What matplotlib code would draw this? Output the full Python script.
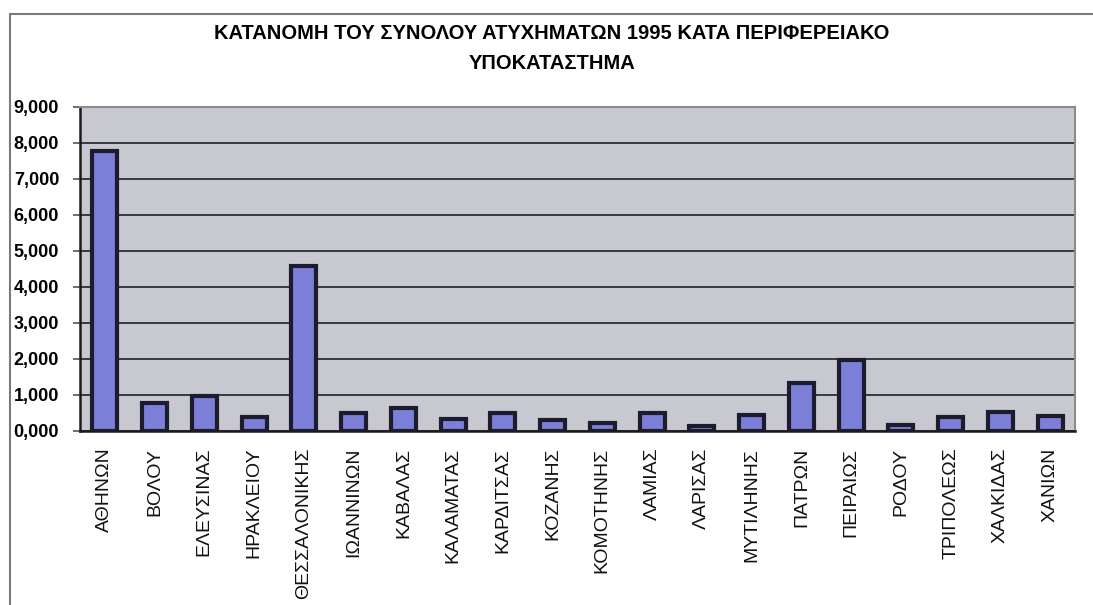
import matplotlib.pyplot as plt
from matplotlib.patches import Rectangle
from matplotlib.ticker import FuncFormatter

# Δεδομένα (χιλιάδες ατυχήματα ανά υποκατάστημα)
branches = ['ΑΘΗΝΩΝ', 'ΒΟΛΟΥ', 'ΕΛΕΥΣΙΝΑΣ', 'ΗΡΑΚΛΕΙΟΥ', 'ΘΕΣΣΑΛΟΝΙΚΗΣ',
            'ΙΩΑΝΝΙΝΩΝ', 'ΚΑΒΑΛΑΣ', 'ΚΑΛΑΜΑΤΑΣ', 'ΚΑΡΔΙΤΣΑΣ', 'ΚΟΖΑΝΗΣ',
            'ΚΟΜΟΤΗΝΗΣ', 'ΛΑΜΙΑΣ', 'ΛΑΡΙΣΑΣ', 'ΜΥΤΙΛΗΝΗΣ', 'ΠΑΤΡΩΝ',
            'ΠΕΙΡΑΙΩΣ', 'ΡΟΔΟΥ', 'ΤΡΙΠΟΛΕΩΣ', 'ΧΑΛΚΙΔΑΣ', 'ΧΑΝΙΩΝ']
accidents = [7.78, 0.78, 0.98, 0.40, 4.59,
             0.49, 0.65, 0.32, 0.49, 0.31,
             0.21, 0.51, 0.14, 0.45, 1.33,
             1.98, 0.18, 0.38, 0.52, 0.42]
y_ticks = [0, 1, 2, 3, 4, 5, 6, 7, 8, 9]

title = 'ΚΑΤΑΝΟΜΗ ΤΟΥ ΣΥΝΟΛΟΥ ΑΤΥΧΗΜΑΤΩΝ 1995 ΚΑΤΑ ΠΕΡΙΦΕΡΕΙΑΚΟ\nΥΠΟΚΑΤΑΣΤΗΜΑ'

plt.rcParams['font.family'] = ['Liberation Sans', 'DejaVu Sans']

fig = plt.figure(figsize=(10.93, 6.05), dpi=100)
fig.patch.set_facecolor('white')

# Πλαίσιο γύρω από το γράφημα
frame = Rectangle((10 / 1093, -0.01), 1.1, (605 - 14) / 605 + 0.01,
                  transform=fig.transFigure, fill=False,
                  edgecolor='#7a7a7a', linewidth=1.5)
fig.patches.append(frame)

ax = fig.add_axes([80 / 1093, (605 - 431) / 605, (1075 - 80) / 1093, (431 - 107) / 605])
ax.set_facecolor('#c8c8d0')

x = range(len(branches))
ax.bar(x, accidents, width=0.5, color='#7b7fd8', edgecolor='#1c1c2e',
       linewidth=3, zorder=3)

ax.set_xlim(-0.5, len(branches) - 0.5)
ax.set_ylim(0, 9)
ax.set_yticks(y_ticks)
ax.yaxis.set_major_formatter(FuncFormatter(lambda v, p: f'{v:.3f}'.replace('.', ',')))
ax.grid(axis='y', color='#2e2e36', linewidth=1.3, zorder=1)
ax.set_axisbelow(True)

ax.set_xticks(list(x))
ax.set_xticklabels(branches, rotation=90, fontsize=14, color='#111111')
ax.tick_params(axis='x', length=0, pad=12)
ax.tick_params(axis='y', length=5, width=1.2, color='#555555', labelsize=13, pad=10)
for lbl in ax.get_yticklabels():
    lbl.set_fontweight('bold')

for side in ['left', 'bottom']:
    ax.spines[side].set_color('#1a1a1a')
    ax.spines[side].set_linewidth(1.8)
for side in ['top', 'right']:
    ax.spines[side].set_color('#8a8a8a')
    ax.spines[side].set_linewidth(1.5)

fig.text(0.505, 0.96, title, ha='center', va='top', fontsize=14.5,
         fontweight='bold', linespacing=1.75)

fig.savefig('out.png', dpi=100, facecolor='white')
